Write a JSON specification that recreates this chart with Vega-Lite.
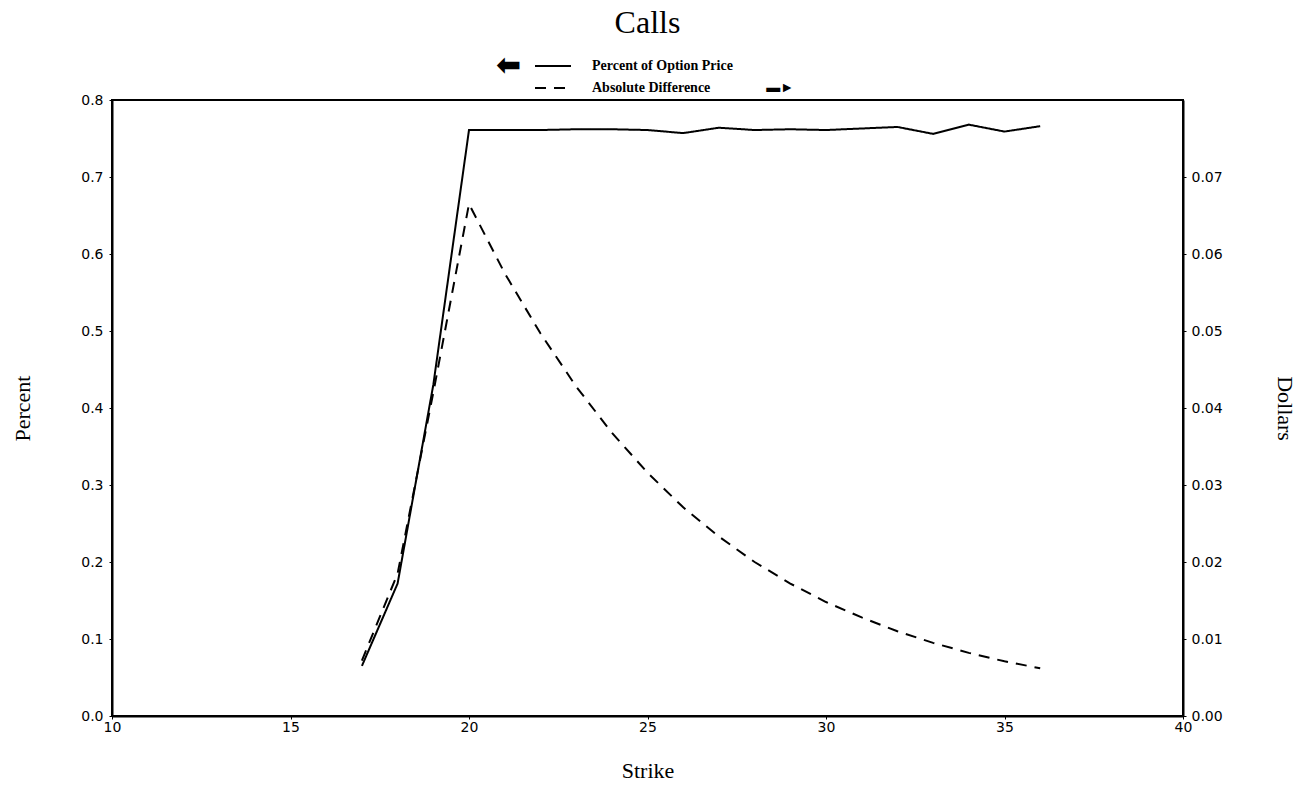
{
  "$schema": "https://vega.github.io/schema/vega-lite/v6.json",
  "width": 1071,
  "height": 616,
  "autosize": {"type": "none"},
  "padding": {"left": 112, "top": 100, "right": 125, "bottom": 71},
  "background": "white",
  "title": {"text": "Calls", "font": "Liberation Serif", "fontSize": 32, "fontWeight": "normal", "color": "black", "anchor": "middle", "frame": "group", "offset": 15},
  "data": {"values": [
    {"strike": 17, "series": "Percent of Option Price", "value": 0.065},
    {"strike": 18, "series": "Percent of Option Price", "value": 0.172},
    {"strike": 19, "series": "Percent of Option Price", "value": 0.43},
    {"strike": 20, "series": "Percent of Option Price", "value": 0.761},
    {"strike": 21, "series": "Percent of Option Price", "value": 0.761},
    {"strike": 22, "series": "Percent of Option Price", "value": 0.761},
    {"strike": 23, "series": "Percent of Option Price", "value": 0.762},
    {"strike": 24, "series": "Percent of Option Price", "value": 0.762},
    {"strike": 25, "series": "Percent of Option Price", "value": 0.761},
    {"strike": 26, "series": "Percent of Option Price", "value": 0.757},
    {"strike": 27, "series": "Percent of Option Price", "value": 0.764},
    {"strike": 28, "series": "Percent of Option Price", "value": 0.761},
    {"strike": 29, "series": "Percent of Option Price", "value": 0.762},
    {"strike": 30, "series": "Percent of Option Price", "value": 0.761},
    {"strike": 31, "series": "Percent of Option Price", "value": 0.763},
    {"strike": 32, "series": "Percent of Option Price", "value": 0.765},
    {"strike": 33, "series": "Percent of Option Price", "value": 0.756},
    {"strike": 34, "series": "Percent of Option Price", "value": 0.768},
    {"strike": 35, "series": "Percent of Option Price", "value": 0.759},
    {"strike": 36, "series": "Percent of Option Price", "value": 0.766},
    {"strike": 17, "series": "Absolute Difference", "value": 0.0072},
    {"strike": 18, "series": "Absolute Difference", "value": 0.0185},
    {"strike": 19, "series": "Absolute Difference", "value": 0.042},
    {"strike": 20, "series": "Absolute Difference", "value": 0.0665},
    {"strike": 21, "series": "Absolute Difference", "value": 0.0575},
    {"strike": 22, "series": "Absolute Difference", "value": 0.0497},
    {"strike": 23, "series": "Absolute Difference", "value": 0.0428},
    {"strike": 24, "series": "Absolute Difference", "value": 0.0368},
    {"strike": 25, "series": "Absolute Difference", "value": 0.0316},
    {"strike": 26, "series": "Absolute Difference", "value": 0.0271},
    {"strike": 27, "series": "Absolute Difference", "value": 0.0233},
    {"strike": 28, "series": "Absolute Difference", "value": 0.02},
    {"strike": 29, "series": "Absolute Difference", "value": 0.0172},
    {"strike": 30, "series": "Absolute Difference", "value": 0.0148},
    {"strike": 31, "series": "Absolute Difference", "value": 0.0128},
    {"strike": 32, "series": "Absolute Difference", "value": 0.011},
    {"strike": 33, "series": "Absolute Difference", "value": 0.0095},
    {"strike": 34, "series": "Absolute Difference", "value": 0.0082},
    {"strike": 35, "series": "Absolute Difference", "value": 0.0071},
    {"strike": 36, "series": "Absolute Difference", "value": 0.0062}
  ]},
  "encoding": {
    "x": {"field": "strike", "type": "quantitative",
      "scale": {"domain": [10, 40], "nice": false, "zero": false},
      "axis": {"values": [10, 15, 20, 25, 30, 35, 40], "title": "Strike", "grid": false,
        "labelFont": "DejaVu Sans", "labelFontSize": 14, "labelColor": "black", "labelFlush": false,
        "titleFont": "Liberation Serif", "titleFontSize": 22, "titleFontWeight": "normal", "titleColor": "black", "titlePadding": 26,
        "domainColor": "black", "domainWidth": 2, "tickColor": "black", "tickSize": 3, "labelPadding": 1}}
  },
  "layer": [
    {
      "transform": [{"filter": "datum.series === 'Percent of Option Price'"}],
      "mark": {"type": "line", "color": "black", "strokeWidth": 2},
      "encoding": {
        "y": {"field": "value", "type": "quantitative",
          "scale": {"domain": [0, 0.8], "nice": false},
          "axis": {"orient": "left", "values": [0, 0.1, 0.2, 0.3, 0.4, 0.5, 0.6, 0.7, 0.8], "format": ".1f", "title": "Percent", "grid": false,
            "labelFont": "DejaVu Sans", "labelFontSize": 14, "labelColor": "black", "labelFlush": false,
            "titleFont": "Liberation Serif", "titleFontSize": 22, "titleFontWeight": "normal", "titleColor": "black", "titlePadding": 46,
            "domainColor": "black", "domainWidth": 2, "tickColor": "black", "tickSize": 3, "labelPadding": 6}},
        "strokeDash": {"field": "series", "type": "nominal",
          "scale": {"domain": ["Percent of Option Price", "Absolute Difference"], "range": [[1, 0], [11, 8]]},
          "legend": {"orient": "none", "legendX": 384, "legendY": -45, "direction": "vertical",
            "title": "⬅", "titleOrient": "left", "titleAnchor": "start", "titleFont": "DejaVu Sans", "titleFontSize": 30, "titleColor": "black", "titlePadding": 12, "titleBaseline": "line-top", "titleLineHeight": 22,
            "symbolType": "stroke", "symbolSize": 1296, "symbolStrokeWidth": 2, "symbolStrokeColor": "black",
            "labelFont": "Liberation Serif", "labelFontWeight": "bold", "labelFontSize": 14, "labelColor": "black", "labelOffset": 20, "labelLimit": 500, "rowPadding": 0, "clipHeight": 22,
            "labelExpr": "datum.label === 'Absolute Difference' ? 'Absolute Difference\u00a0\u00a0\u00a0\u00a0\u00a0\u00a0\u00a0\u00a0\u00a0\u00a0\u00a0\u00a0\u00a0\u00a0\u00a0\u00a0▬►' : datum.label"}}
      }
    },
    {
      "transform": [{"filter": "datum.series === 'Absolute Difference'"}],
      "mark": {"type": "line", "color": "black", "strokeWidth": 2},
      "encoding": {
        "y": {"field": "value", "type": "quantitative",
          "scale": {"domain": [0, 0.08], "nice": false},
          "axis": {"orient": "right", "values": [0, 0.01, 0.02, 0.03, 0.04, 0.05, 0.06, 0.07], "format": ".2f", "title": "Dollars", "grid": false,
            "labelFont": "DejaVu Sans", "labelFontSize": 14, "labelColor": "black", "labelFlush": false,
            "titleFont": "Liberation Serif", "titleFontSize": 22, "titleFontWeight": "normal", "titleColor": "black", "titlePadding": 50,
            "domainColor": "black", "domainWidth": 2, "tickColor": "black", "tickSize": 3, "labelPadding": 5}},
        "strokeDash": {"field": "series", "type": "nominal",
          "scale": {"domain": ["Percent of Option Price", "Absolute Difference"], "range": [[1, 0], [11, 8]]},
          "legend": {"orient": "none", "legendX": 384, "legendY": -45, "direction": "vertical",
            "title": "⬅", "titleOrient": "left", "titleAnchor": "start", "titleFont": "DejaVu Sans", "titleFontSize": 30, "titleColor": "black", "titlePadding": 12, "titleBaseline": "line-top", "titleLineHeight": 22,
            "symbolType": "stroke", "symbolSize": 1296, "symbolStrokeWidth": 2, "symbolStrokeColor": "black",
            "labelFont": "Liberation Serif", "labelFontWeight": "bold", "labelFontSize": 14, "labelColor": "black", "labelOffset": 20, "labelLimit": 500, "rowPadding": 0, "clipHeight": 22,
            "labelExpr": "datum.label === 'Absolute Difference' ? 'Absolute Difference\u00a0\u00a0\u00a0\u00a0\u00a0\u00a0\u00a0\u00a0\u00a0\u00a0\u00a0\u00a0\u00a0\u00a0\u00a0\u00a0▬►' : datum.label"}}
      }
    }
  ],
  "resolve": {"scale": {"y": "independent"}},
  "config": {"view": {"stroke": "black", "strokeWidth": 2}}
}
